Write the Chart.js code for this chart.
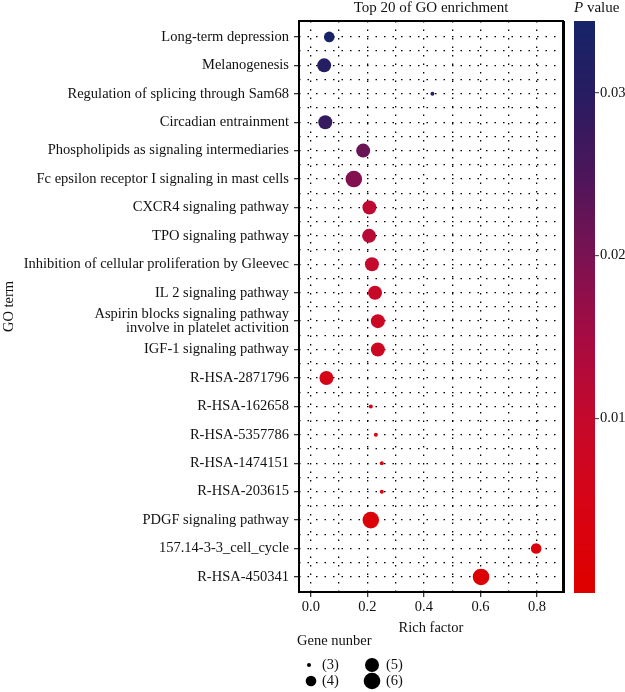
<!DOCTYPE html>
<html>
<head>
<meta charset="utf-8">
<script src="https://cdn.jsdelivr.net/npm/chart.js@4/dist/chart.umd.min.js"></script>
<style>
  body { margin: 0; background: #fff; }
  canvas { display: block; }
</style>
</head>
<body>
<canvas id="goChart" width="625" height="692"></canvas>
<script>
// GO terms, top to bottom
const categories = [
  'Long-term depression',
  'Melanogenesis',
  'Regulation of splicing through Sam68',
  'Circadian entrainment',
  'Phospholipids as signaling intermediaries',
  'Fc epsilon receptor I signaling in mast cells',
  'CXCR4 signaling pathway',
  'TPO signaling pathway',
  'Inhibition of cellular proliferation by Gleevec',
  'IL 2 signaling pathway',
  'Aspirin blocks signaling pathway\ninvolve in platelet activition',
  'IGF-1 signaling pathway',
  'R-HSA-2871796',
  'R-HSA-162658',
  'R-HSA-5357786',
  'R-HSA-1474151',
  'R-HSA-203615',
  'PDGF signaling pathway',
  '157.14-3-3_cell_cycle',
  'R-HSA-450341'
];
const richFactor = [0.065, 0.047, 0.43, 0.051, 0.185, 0.152, 0.207, 0.206, 0.216, 0.227,
  0.237, 0.237, 0.055, 0.212, 0.230, 0.251, 0.251, 0.212, 0.797, 0.602];
const geneNumber = [4, 5, 3, 5, 5, 6, 5, 5, 5, 5, 5, 5, 5, 3, 3, 3, 3, 6, 4, 6];
const pValue = [0.0340, 0.0310, 0.0290, 0.0280, 0.0220, 0.0190, 0.0110, 0.0120, 0.0100, 0.0090,
  0.0080, 0.0075, 0.0050, 0.0040, 0.0040, 0.0030, 0.0030, 0.0020, 0.0030, 0.0005];

const xTickLabels = [0, 0.2, 0.4, 0.6, 0.8];
const pTickLabels = [0.01, 0.02, 0.03];
const legendGenes = [3, 4, 5, 6];

const FONT = "'Liberation Serif', 'DejaVu Serif', serif";
const FS = 14.5;

// colour ramp for the p value (low = red, high = navy)
const colorStops = [
  [0.000, [222, 0, 0]],
  [0.005, [214, 4, 22]],
  [0.010, [196, 9, 44]],
  [0.015, [166, 11, 66]],
  [0.020, [122, 18, 82]],
  [0.025, [76, 22, 90]],
  [0.030, [40, 28, 98]],
  [0.0345, [22, 36, 104]]
];

function pColor(p) {
  if (p <= colorStops[0][0]) return 'rgb(' + colorStops[0][1].join(',') + ')';
  for (let i = 1; i < colorStops.length; i++) {
    if (p <= colorStops[i][0]) {
      const a = colorStops[i - 1], b = colorStops[i];
      const t = (p - a[0]) / (b[0] - a[0]);
      const c = a[1].map(function(v, k) { return Math.round(v + (b[1][k] - v) * t); });
      return 'rgb(' + c.join(',') + ')';
    }
  }
  return 'rgb(' + colorStops[colorStops.length - 1][1].join(',') + ')';
}

function geneRadius(n) {
  return { 3: 2, 4: 5.3, 5: 7, 6: 8.3 }[n];
}

const bubbles = categories.map(function(c, i) {
  return { x: richFactor[i], y: i, r: geneRadius(geneNumber[i]) };
});

// colour bar range (pixel mapping matches the reference key)
const barTop = 0.0344, barBottom = -0.0007;

const extras = {
  id: 'extras',
  afterDraw: function(chart) {
    const ctx = chart.ctx;
    const area = chart.chartArea;
    ctx.save();

    // panel border
    ctx.strokeStyle = '#000';
    ctx.lineWidth = 2;
    ctx.strokeRect(area.left, area.top, area.right - area.left, area.bottom - area.top);
    ctx.lineWidth = 1;
    ctx.beginPath();
    ctx.moveTo(area.right + 1.5, area.top);
    ctx.lineTo(area.right + 1.5, area.bottom + 1);
    ctx.stroke();

    ctx.fillStyle = '#111';
    ctx.textBaseline = 'middle';
    ctx.font = FS + 'px ' + FONT;

    // title
    ctx.textAlign = 'center';
    ctx.font = '15px ' + FONT;
    ctx.fillText('Top 20 of GO enrichment', (area.left + area.right) / 2, 8);
    ctx.font = FS + 'px ' + FONT;

    // axis titles
    ctx.fillText('Rich factor', (area.left + area.right) / 2, 628);
    ctx.save();
    ctx.translate(9, (area.top + area.bottom) / 2);
    ctx.rotate(-Math.PI / 2);
    ctx.fillText('GO term', 0, 0);
    ctx.restore();

    // colour bar
    const bx = 574, bw = 21, by0 = 21, by1 = 593;
    for (let y = by0; y < by1; y++) {
      const p = barTop - (y - by0 + 0.5) / (by1 - by0) * (barTop - barBottom);
      ctx.fillStyle = pColor(p);
      ctx.fillRect(bx, y, bw, 1);
    }
    ctx.textAlign = 'left';
    ctx.font = 'italic 15px ' + FONT;
    ctx.fillStyle = '#111';
    ctx.fillText('P', 574, 8);
    const pw = ctx.measureText('P ').width;
    ctx.font = '15px ' + FONT;
    ctx.fillText('value', 574 + pw, 8);
    ctx.font = FS + 'px ' + FONT;
    pTickLabels.forEach(function(p) {
      const y = by0 + (barTop - p) / (barTop - barBottom) * (by1 - by0);
      ctx.strokeStyle = '#333';
      ctx.lineWidth = 1;
      ctx.beginPath();
      ctx.moveTo(bx + bw, y);
      ctx.lineTo(bx + bw + 4, y);
      ctx.stroke();
      ctx.fillText(String(p), bx + bw + 5, y);
    });

    // gene number legend
    ctx.fillText('Gene nunber', 297, 641);
    const spots = [
      { x: 309, y: 665 }, { x: 311, y: 681 },
      { x: 372, y: 665 }, { x: 372, y: 681 }
    ];
    legendGenes.forEach(function(g, i) {
      const s = spots[i];
      ctx.fillStyle = '#000';
      ctx.beginPath();
      ctx.arc(s.x, s.y, geneRadius(g), 0, Math.PI * 2);
      ctx.fill();
      ctx.fillStyle = '#111';
      ctx.fillText('(' + g + ')', i < 2 ? 322 : 386, s.y);
    });

    ctx.restore();
  }
};

const dotted = [1.5, 7];

new Chart(document.getElementById('goChart').getContext('2d'), {
  type: 'bubble',
  data: {
    datasets: [{
      data: bubbles,
      backgroundColor: pValue.map(pColor),
      borderWidth: 0,
      hoverBorderWidth: 0
    }]
  },
  options: {
    responsive: false,
    animation: false,
    events: [],
    layout: { padding: { left: 0, top: 21, right: 62, bottom: 0 } },
    plugins: { legend: { display: false }, tooltip: { enabled: false } },
    scales: {
      x: {
        type: 'linear',
        min: -0.042,
        max: 0.892,
        z: 1,
        afterBuildTicks: function(scale) {
          const t = [];
          for (let k = 0; k <= 8; k++) t.push({ value: k / 10 });
          scale.ticks = t;
        },
        afterFit: function(scale) { scale.height = 100; },
        border: { display: false, dash: dotted },
        grid: {
          color: '#000',
          lineWidth: 1.3,
          tickLength: 5,
          tickColor: function(c) {
            return c.tick && Math.round(c.tick.value * 10) % 2 === 0 ? '#333' : 'rgba(0,0,0,0)';
          }
        },
        ticks: {
          autoSkip: false,
          maxRotation: 0,
          padding: 1,
          color: '#111',
          font: { family: FONT, size: FS },
          callback: function(value) {
            const v = Math.round(value * 10) / 10;
            return xTickLabels.indexOf(v) >= 0 ? v.toFixed(1) : '';
          }
        }
      },
      y: {
        type: 'linear',
        reverse: true,
        min: -0.56,
        max: 19.53,
        z: 1,
        afterBuildTicks: function(scale) {
          const t = [];
          for (let k = 0; k <= 38; k++) t.push({ value: k / 2 });
          scale.ticks = t;
        },
        afterFit: function(scale) { scale.width = 299; },
        border: { display: false, dash: dotted },
        grid: {
          color: '#000',
          lineWidth: 1.3,
          tickLength: 5,
          tickColor: function(c) {
            return c.tick && Number.isInteger(c.tick.value) ? '#333' : 'rgba(0,0,0,0)';
          }
        },
        ticks: {
          autoSkip: false,
          padding: 5,
          color: '#111',
          font: { family: FONT, size: FS, lineHeight: 1.0 },
          callback: function(value) {
            if (!Number.isInteger(value)) return '';
            const label = categories[value];
            return label.indexOf('\n') >= 0 ? label.split('\n') : label;
          }
        }
      }
    }
  },
  plugins: [extras]
});
</script>
</body>
</html>
